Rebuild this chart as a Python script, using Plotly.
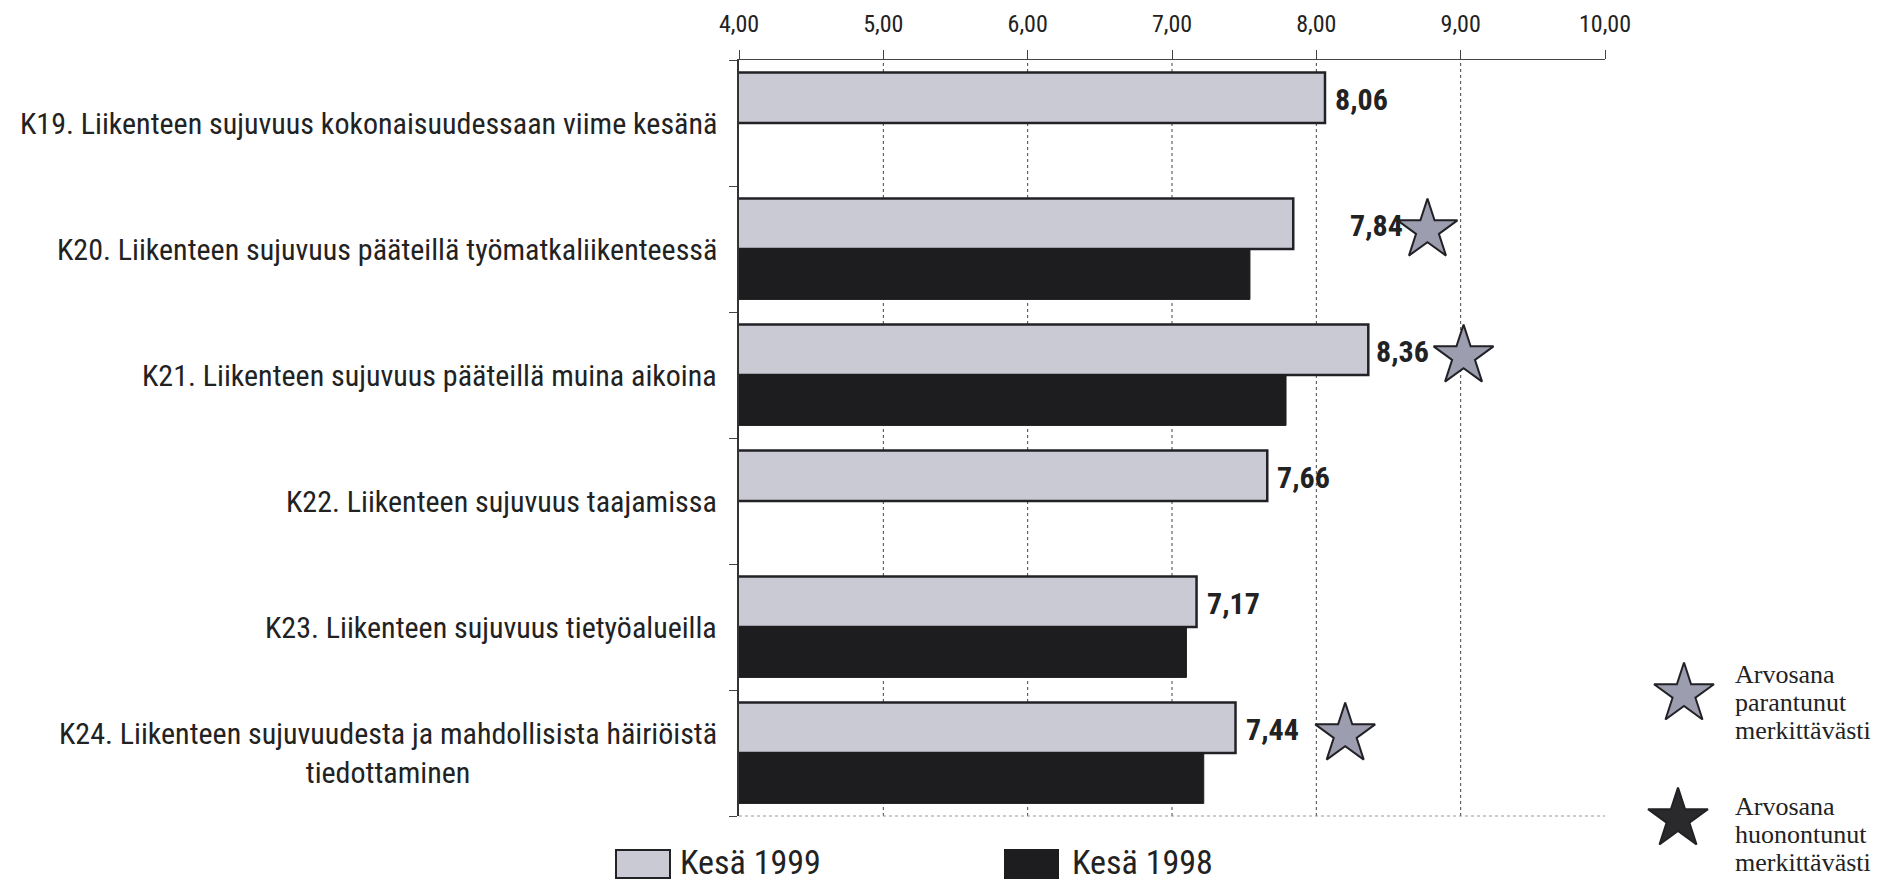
import plotly.graph_objects as go

# ---------------- data ----------------
categories = [
    "K19. Liikenteen sujuvuus kokonaisuudessaan viime kesänä",
    "K20. Liikenteen sujuvuus pääteillä työmatkaliikenteessä",
    "K21. Liikenteen sujuvuus pääteillä muina aikoina",
    "K22. Liikenteen sujuvuus taajamissa",
    "K23. Liikenteen sujuvuus tietyöalueilla",
    "K24. Liikenteen sujuvuudesta ja mahdollisista häiriöistä<br>tiedottaminen",
]
values_1999 = [8.06, 7.84, 8.36, 7.66, 7.17, 7.44]
values_1998 = [None, 7.54, 7.79, None, 7.10, 7.22]
improved = [False, True, True, False, False, True]
series_names = ["Kesä 1999", "Kesä 1998"]
x_tick_vals = [4, 5, 6, 7, 8, 9, 10]
x_tick_text = ["4,00", "5,00", "6,00", "7,00", "8,00", "9,00", "10,00"]
grid_vals = [5, 6, 7, 8, 9]
legend_star_lines = [["Arvosana", "parantunut", "merkittävästi"],
                     ["Arvosana", "huonontunut", "merkittävästi"]]

# ---------------- style / layout ----------------
W, H = 1894, 881
OFF = 8  # page body margin offset of the rendered figure
NARROW = "Liberation Sans Narrow, Arial Narrow, Roboto Condensed, sans-serif"
SERIF = "Liberation Serif, Times New Roman, serif"
C_1999 = "#cacad5"
C_1998 = "#1d1d1f"
C_EDGE = "#222226"
C_STAR_UP = "#9d9db0"
C_STAR_DOWN = "#2a2a2c"
TEXT = "#222222"

plot_left, plot_right, plot_top, plot_bottom = 739, 1605, 60, 816
star_x = [None, 8.77, 9.02, None, None, 8.20]   # star placement (annotation-like)
label_dx = [8, 55, 6, 8, 8, 8]                  # px gap between bar end and value label
star_dy = -0.15


def fx(px):
    return (px - OFF) / W


def fy(py):
    return 1 - (py - OFF) / H


idx = list(range(len(categories)))

fig = go.Figure()

fig.add_trace(go.Bar(
    y=idx, x=values_1999, orientation="h", name=series_names[0],
    marker=dict(color=C_1999, line=dict(color=C_EDGE, width=2.5)),
    showlegend=False,
))
fig.add_trace(go.Bar(
    y=idx, x=values_1998, orientation="h", name=series_names[1],
    marker=dict(color=C_1998, line=dict(color=C_1998, width=1)),
    showlegend=False,
))

# significance stars
sx = [s for s, f in zip(star_x, improved) if f]
sy = [i + star_dy for i, f in zip(idx, improved) if f]
fig.add_trace(go.Scatter(
    x=sx, y=sy, mode="markers", showlegend=False, cliponaxis=False,
    marker=dict(symbol="star", size=45, color=C_STAR_UP,
                line=dict(color=C_EDGE, width=2)),
))

# legend stars on a full-page pixel axis
fig.add_trace(go.Scatter(
    x=[1684, 1678], y=[694, 819], mode="markers", showlegend=False,
    xaxis="x2", yaxis="y2", cliponaxis=False,
    marker=dict(symbol="star", size=45, color=[C_STAR_UP, C_STAR_DOWN],
                line=dict(color=C_EDGE, width=2)),
))

# gridlines
for g in grid_vals:
    fig.add_shape(type="line", xref="x", yref="y domain", x0=g, x1=g, y0=0, y1=1,
                  line=dict(color="#444444", width=1, dash="dot"), layer="below")
# bottom dotted line
fig.add_shape(type="line", xref="x domain", yref="y domain", x0=0, x1=1, y0=0, y1=0,
              line=dict(color="#999999", width=1, dash="dot"))

annotations = []
# category labels
for i, c in zip(idx, categories):
    annotations.append(dict(
        x=0, xref="x domain", y=i, yref="y", xanchor="right", yanchor="middle",
        xshift=-20, text=c, showarrow=False, align="center",
        font=dict(family=NARROW, size=30, color=TEXT)))
# value labels
for i, v, dx in zip(idx, values_1999, label_dx):
    annotations.append(dict(
        x=v, xref="x", y=i - 0.1875, yref="y", xanchor="left", yanchor="middle",
        xshift=dx, text="<b>" + f"{v:.2f}".replace(".", ",") + "</b>",
        showarrow=False, font=dict(family=NARROW, size=30, color=TEXT)))
# bottom legend
leg = [(616, 670, 678, C_1999, C_EDGE), (1005, 1058, 1070, C_1998, C_1998)]
for (x0, x1, tx, fc, lc), name in zip(leg, series_names):
    fig.add_shape(type="rect", xref="paper", yref="paper",
                  x0=fx(x0), x1=fx(x1), y0=fy(878), y1=fy(850),
                  fillcolor=fc, line=dict(color=lc, width=2))
    annotations.append(dict(
        x=fx(tx), xref="paper", y=fy(862), yref="paper", xanchor="left",
        yanchor="middle", text=name, showarrow=False,
        font=dict(family=NARROW, size=34, color=TEXT)))
# star legend texts
for y0, lines in zip([674, 806], legend_star_lines):
    for k, t in enumerate(lines):
        annotations.append(dict(
            x=fx(1733), xref="paper", y=fy(y0 + 28 * k), yref="paper",
            xanchor="left", yanchor="middle", text=t, showarrow=False,
            font=dict(family=SERIF, size=26, color=TEXT)))

fig.update_layout(
    width=W, height=H, template="none",
    paper_bgcolor="white", plot_bgcolor="rgba(0,0,0,0)",
    margin=dict(l=0, r=0, t=0, b=0),
    barmode="group", bargap=0.2, bargroupgap=0,
    showlegend=False,
    annotations=annotations,
    xaxis=dict(
        domain=[fx(plot_left), fx(plot_right)], range=[4, 10], side="top",
        tickvals=x_tick_vals, ticktext=x_tick_text,
        tickfont=dict(family=NARROW, size=24, color=TEXT),
        showgrid=False, zeroline=False, showline=True, linecolor="#444444",
        linewidth=1.2, ticks="outside", ticklen=9, tickcolor="#444444",
        ticklabelstandoff=8, anchor="y",
    ),
    yaxis=dict(
        domain=[fy(plot_bottom), fy(plot_top)], range=[5.5, -0.5],
        tickvals=[-0.5, 0.5, 1.5, 2.5, 3.5, 4.5, 5.5], showticklabels=False,
        ticks="outside", ticklen=8, tickcolor="#444444",
        showgrid=False, zeroline=False, showline=True, linecolor="#333333",
        linewidth=1.5, anchor="x",
    ),
    xaxis2=dict(domain=[0, 1], range=[OFF, W + OFF], visible=False,
                anchor="y2", fixedrange=True),
    yaxis2=dict(domain=[0, 1], range=[H + OFF, OFF], visible=False,
                anchor="x2", fixedrange=True),
)

fig.write_html("out.html")
